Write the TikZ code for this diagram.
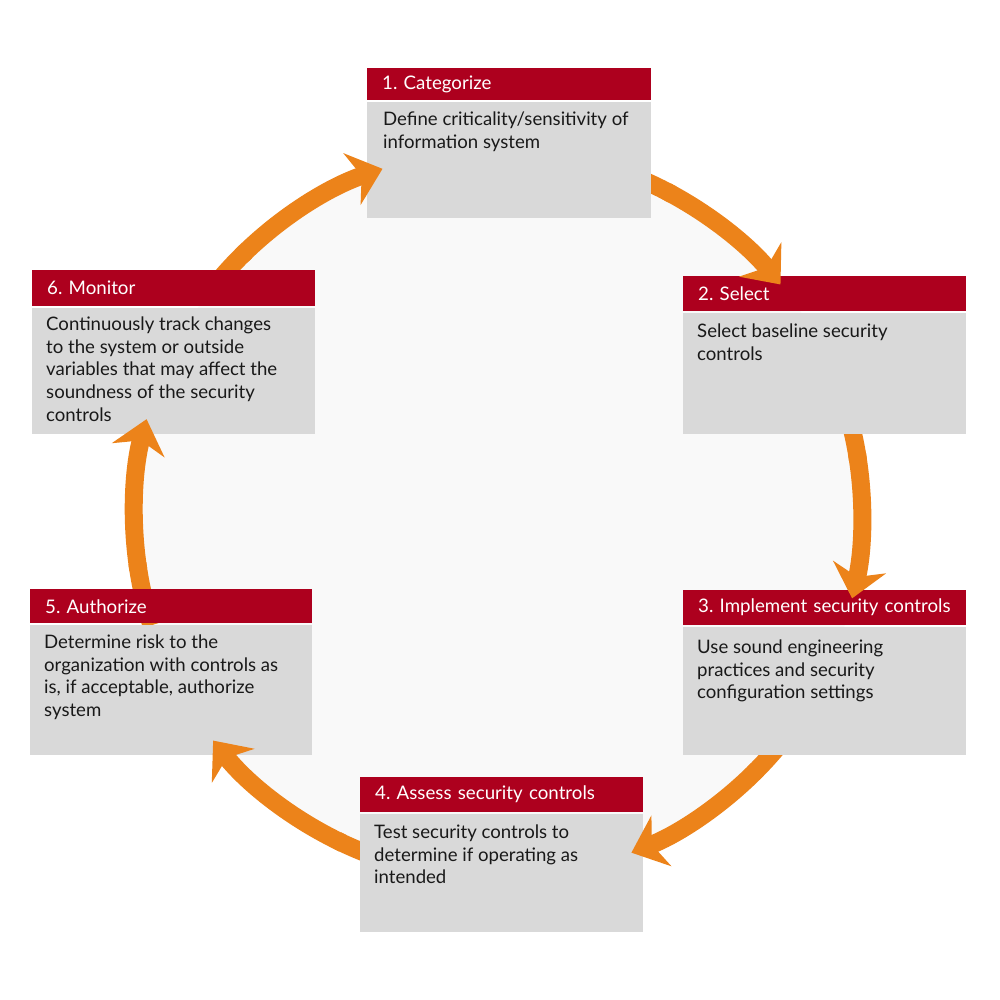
\documentclass[tikz,border=0pt]{standalone}
\usepackage{fontspec}
\setmainfont{Lato}
\usetikzlibrary{arrows.meta,calc}
\definecolor{hdrred}{RGB}{173,0,30}
\definecolor{bodygray}{RGB}{217,217,217}
\definecolor{arroworange}{RGB}{236,131,26}
\definecolor{ringfill}{RGB}{249,249,249}
\definecolor{txt}{RGB}{25,25,25}
\newcommand\hdrfnt{\fontsize{18.7}{22}\selectfont\frenchspacing}
\newcommand\bodyfnt{\fontsize{18.6}{22.7}\selectfont\frenchspacing}
\begin{document}
\begin{tikzpicture}[x=1pt,y=-1pt,
  hdr/.style={fill=hdrred,text=white,anchor=north west,inner xsep=15pt,inner ysep=0pt,align=left,font=\hdrfnt},
  bodybox/.style={fill=bodygray,anchor=north west,inner sep=0pt},
  bodytext/.style={anchor=north west,inner sep=0pt,align=left,text=txt,font=\bodyfnt},
  flow/.style={draw=arroworange,line width=18pt},
  flowhead/.style={flow,-{Stealth[length=32pt,width=54pt,inset=10pt]}},
]
\fill[white] (0,0) rectangle (1000,1000);
\useasboundingbox (0,0) rectangle (1000,1000);
\coordinate (ctr) at (498,514);
\fill[ringfill] (ctr) circle[radius=364];

% hidden parts of the arcs (start under the source box)
\foreach \a in {-137.9,-65.4,-12.6,41.5,112.2,168.2}{
  \draw[flow] ($(ctr)+(\a-6:364)$) arc[start angle=\a-6, end angle=\a+4, radius=364];
}

% boxes
\node[hdr,text width=254pt,minimum height=32pt] (h1) at (367,68) {1. Categorize};
\node[bodybox,minimum width=284pt,minimum height=116.5pt] (b1) at (367,101.5) {};
\node[bodytext] (t1) at ([xshift=16pt,yshift=-10pt]b1.north west) {Define criticality/sensitivity of\\information system};

\node[hdr,text width=253pt,minimum height=35pt] (h2) at (683,276) {2. Select};
\node[bodybox,minimum width=283pt,minimum height=121.5pt] (b2) at (683,312.5) {};
\node[bodytext] (t2) at ([xshift=14pt,yshift=-11pt]b2.north west) {Select baseline security\\controls};

\node[hdr,text width=253pt,minimum height=35pt] (h3) at (683,590) {3. Implement security controls};
\node[bodybox,minimum width=283pt,minimum height=128.5pt] (b3) at (683,626.5) {};
\node[bodytext] (t3) at ([xshift=14pt,yshift=-13pt]b3.north west) {Use sound engineering\\practices and security\\configuration settings};

\node[hdr,text width=253pt,minimum height=35pt] (h4) at (360,777) {4. Assess security controls};
\node[bodybox,minimum width=283pt,minimum height=118.5pt] (b4) at (360,813.5) {};
\node[bodytext] (t4) at ([xshift=14pt,yshift=-11pt]b4.north west) {Test security controls to\\determine if operating as\\intended};

\node[hdr,text width=252pt,minimum height=34pt] (h5) at (30,589) {5. Authorize};
\node[bodybox,minimum width=282pt,minimum height=130.5pt] (b5) at (30,624.5) {};
\node[bodytext] (t5) at ([xshift=14pt,yshift=-10pt]b5.north west) {Determine risk to the\\organization with controls as\\is, if acceptable, authorize\\system};

\node[hdr,text width=253pt,minimum height=36pt] (h6) at (32,270) {6. Monitor};
\node[bodybox,minimum width=283pt,minimum height=126.5pt] (b6) at (32,307.5) {};
\node[bodytext] (t6) at ([xshift=14pt,yshift=-9pt]b6.north west) {Continuously track changes\\to the system or outside\\variables that may affect the\\soundness of the security\\controls};

% visible arcs with heads
\foreach \a/\b/\n in {-137.9/-108.5/61,-65.4/-39.1/12,-12.6/13.4/23,41.5/68.5/34,112.2/141.5/45,168.2/195.1/56}{
  \coordinate (s\n) at ($(ctr)+(\a+3:364)$);
  \draw[flowhead] (s\n) arc[start angle=\a+3, end angle=\b, radius=364];
}
\end{tikzpicture}
\end{document}
